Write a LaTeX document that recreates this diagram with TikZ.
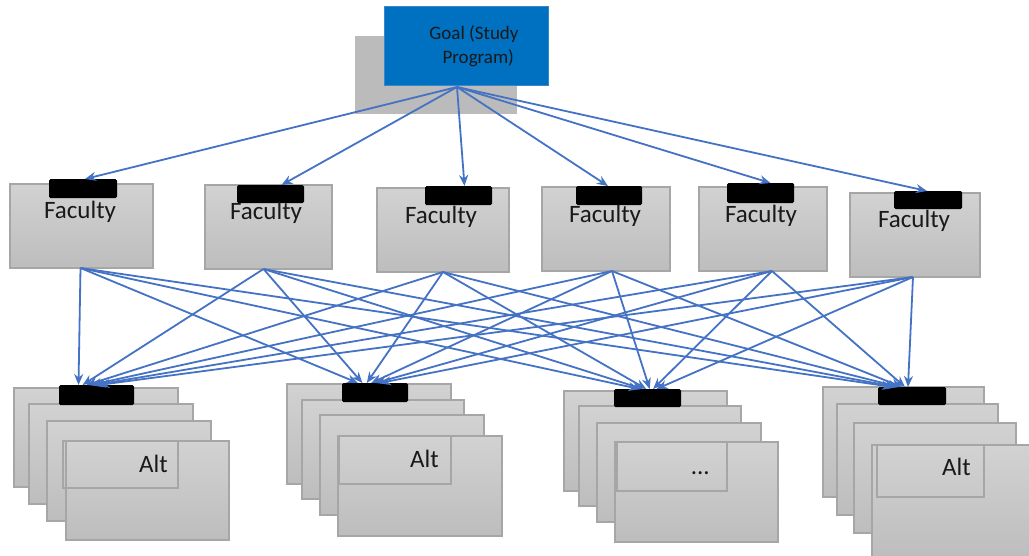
\documentclass[tikz,border=0pt]{standalone}
\usepackage{fontspec}
\setmainfont{Carlito}
\usetikzlibrary{arrows.meta}
\definecolor{goalblue}{HTML}{0070C0}
\definecolor{goaledge}{HTML}{3A86CC}
\definecolor{linkblue}{HTML}{4472C4}
\definecolor{boxedge}{HTML}{A6A6A6}
\definecolor{boxtop}{HTML}{D2D2D2}
\definecolor{boxbot}{HTML}{BDBDBD}
\definecolor{shadowgray}{HTML}{BBBBBB}
\tikzset{
  graybox/.style={draw=boxedge, line width=1.3pt, top color=boxtop, bottom color=boxbot,
    inner sep=0pt, outer sep=0pt, anchor=north west},
  blackbar/.style={fill=black, rounded corners=1.5pt, inner sep=0pt, outer sep=0pt, anchor=north west},
  innerbox/.style={draw=boxedge, line width=1.3pt, inner sep=0pt, outer sep=0pt, anchor=north west},
  link/.style={draw=linkblue, line width=1.8pt, -{Stealth[length=11pt,width=9pt]}},
  factext/.style={font=\fontsize{25}{30}\selectfont, anchor=base, inner sep=0pt, text=black!90},
  alttext/.style={font=\fontsize{25}{30}\selectfont, anchor=base east, inner sep=0pt, text=black!90},
}
\begin{document}
\begin{tikzpicture}[x=1pt,y=-1pt]
\clip (0,0) rectangle (1029,555);
\fill[white] (0,0) rectangle (1029,555);

% Goal
\node[fill=shadowgray, inner sep=0pt, outer sep=0pt, anchor=north west,
      minimum width=162pt, minimum height=78pt] (goalshadow) at (355,36) {};
\node[fill=goalblue, draw=goaledge, line width=1pt, inner sep=0pt, outer sep=0pt, anchor=north west,
      minimum width=164pt, minimum height=79pt] (goal) at (384,6) {};
\node[font=\fontsize{19}{24}\selectfont, align=center, inner sep=0pt, text=black!90] (goaltxt) at (474,46)
      {Goal (Study\\\hspace*{0.45em}Program)};

% Faculty boxes
\node[graybox, minimum width=143pt, minimum height=84pt] (f1) at (10,184) {};
\node[graybox, minimum width=127pt, minimum height=84pt] (f2) at (205,185) {};
\node[graybox, minimum width=132pt, minimum height=84pt] (f3) at (377,188) {};
\node[graybox, minimum width=128pt, minimum height=84pt] (f4) at (542,187) {};
\node[graybox, minimum width=128pt, minimum height=84pt] (f5) at (699,187) {};
\node[graybox, minimum width=130pt, minimum height=84pt] (f6) at (850,193) {};

\node[blackbar, minimum width=68pt, minimum height=19pt] (f1bar) at (49,179) {};
\node[blackbar, minimum width=67pt, minimum height=18pt] (f2bar) at (237,185) {};
\node[blackbar, minimum width=67pt, minimum height=19pt] (f3bar) at (425,186) {};
\node[blackbar, minimum width=66pt, minimum height=19pt] (f4bar) at (576,186) {};
\node[blackbar, minimum width=67pt, minimum height=20pt] (f5bar) at (727,183) {};
\node[blackbar, minimum width=68pt, minimum height=18pt] (f6bar) at (894,191) {};

\node[factext] (f1txt) at (80,218) {Faculty};
\node[factext] (f2txt) at (266,219) {Faculty};
\node[factext] (f3txt) at (441,223) {Faculty};
\node[factext] (f4txt) at (605,222) {Faculty};
\node[factext] (f5txt) at (761,222) {Faculty};
\node[factext] (f6txt) at (914,227) {Faculty};

% Alternative stacks
% stack 1
\node[graybox, minimum width=164pt, minimum height=99pt] (s1a) at (14,388) {};
\node[graybox, minimum width=164pt, minimum height=100pt] (s1b) at (29,404) {};
\node[graybox, minimum width=164pt, minimum height=100pt] (s1c) at (47,421) {};
\node[graybox, minimum width=163pt, minimum height=99pt] (s1d) at (66,441) {};
\node[innerbox, minimum width=115pt, minimum height=47pt] (s1in) at (63,441) {};
\node[alttext] (s1txt) at (168,472) {Alt};
% stack 2
\node[graybox, minimum width=164pt, minimum height=100pt] (s2a) at (287,384) {};
\node[graybox, minimum width=162pt, minimum height=99pt] (s2b) at (302,400) {};
\node[graybox, minimum width=164pt, minimum height=100pt] (s2c) at (320,415) {};
\node[graybox, minimum width=164pt, minimum height=100pt] (s2d) at (338,436) {};
\node[innerbox, minimum width=112pt, minimum height=48pt] (s2in) at (339,436) {};
\node[alttext] (s2txt) at (439,467) {Alt};
% stack 3
\node[graybox, minimum width=163pt, minimum height=100pt] (s3a) at (564,391) {};
\node[graybox, minimum width=162pt, minimum height=100pt] (s3b) at (579,406) {};
\node[graybox, minimum width=164pt, minimum height=99pt] (s3c) at (597,423) {};
\node[graybox, minimum width=163pt, minimum height=100pt] (s3d) at (615,442) {};
\node[innerbox, minimum width=110pt, minimum height=49pt] (s3in) at (617,442) {};
\node[alttext] (s3txt) at (710,474) {...};
% stack 4
\node[graybox, minimum width=161pt, minimum height=110pt] (s4a) at (823,387) {};
\node[graybox, minimum width=161pt, minimum height=111pt] (s4b) at (837,404) {};
\node[graybox, minimum width=162pt, minimum height=110pt] (s4c) at (854,423) {};
\node[graybox, minimum width=170pt, minimum height=115pt] (s4d) at (872,445) {};
\node[innerbox, minimum width=107pt, minimum height=52pt] (s4in) at (877,445) {};
\node[alttext] (s4txt) at (971,475) {Alt};

% bars on stacks
\node[blackbar, minimum width=75pt, minimum height=20pt] (s1bar) at (59,385) {};
\node[blackbar, minimum width=66pt, minimum height=19pt] (s2bar) at (342,383) {};
\node[blackbar, minimum width=67pt, minimum height=18pt] (s3bar) at (614,389) {};
\node[blackbar, minimum width=68pt, minimum height=18pt] (s4bar) at (878,387) {};

% Goal -> faculties
\foreach \t/\d in {f1bar/2, f2bar/11, f3bar/6, f4bar/-1, f5bar/10, f6bar/-1}{
  \draw[link] ([xshift=-9pt,yshift=-2pt]goal.south) -- ([xshift=\d pt]\t.north);
}

% Faculties -> alternatives
\foreach \f/\fs [count=\i from 0] in {f1/-1, f2/-5, f3/0, f4/6, f5/9, f6/-2}{
  \foreach \s/\a/\b in {s1bar/-18/4, s2bar/-17/4.4, s3bar/-8/3.4, s4bar/-19/3}{
    \draw[link] ([xshift=\fs pt]\f.south) -- ([xshift={(\a+\b*\i)*1pt}]\s.north);
  }
}
\end{tikzpicture}
\end{document}
